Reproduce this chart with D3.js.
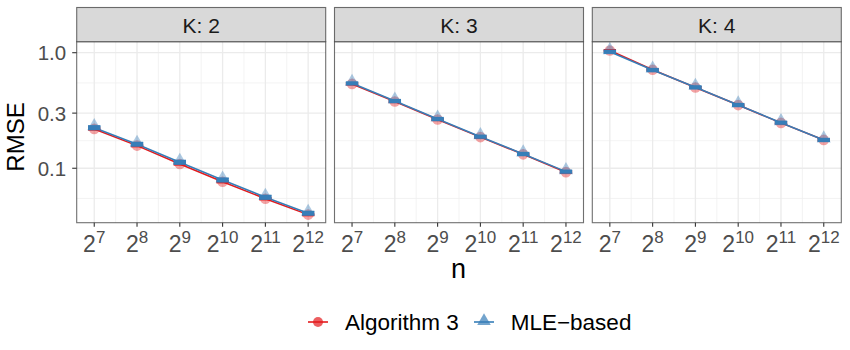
<!DOCTYPE html>
<html><head><meta charset="utf-8">
<script src="https://cdn.jsdelivr.net/npm/d3@7"></script>
<style>body{margin:0;background:#fff}svg{display:block}text{font-family:"Liberation Sans",Arial,sans-serif}</style>
</head><body><div id="chart"></div>
<script>
// ---- data ----
const panels = ["K: 2", "K: 3", "K: 4"];
const nExp = [7, 8, 9, 10, 11, 12];           // n = 2^exp
const seriesNames = ["Algorithm 3", "MLE\u2212based"];
const alg3 = [
  [0.219, 0.157, 0.109, 0.0765, 0.0545, 0.0397],
  [0.537, 0.378, 0.264, 0.186, 0.132, 0.0925],
  [1.045, 0.712, 0.500, 0.352, 0.247, 0.176]
];
const mle = [
  [0.2245, 0.1614, 0.1127, 0.0792, 0.0561, 0.0408],
  [0.543, 0.382, 0.267, 0.1876, 0.133, 0.0935],
  [1.02, 0.708, 0.502, 0.353, 0.248, 0.176]
];
const alg3Err = [
  [0.004, 0.003, 0.002, 0.0014, 0.001, 0.0007],
  [0.008, 0.006, 0.004, 0.003, 0.002, 0.0015],
  [0.015, 0.010, 0.007, 0.005, 0.004, 0.003]
];
const mleErr = [
  [0.008, 0.0055, 0.004, 0.0028, 0.002, 0.0014],
  [0.014, 0.010, 0.007, 0.005, 0.0035, 0.0025],
  [0.028, 0.019, 0.013, 0.009, 0.0065, 0.0046]
];
const yTicks = [0.1, 0.3, 1.0];
const yTickLabels = ["0.1", "0.3", "1.0"];
const yMinor = [0.0548, 0.1732, 0.5477];
const colors = ["#E41A1C", "#377EB8"];

// ---- layout ----
const W = 850, H = 350;
const panelLefts = [76.7, 334.5, 592.3];
const panelW = 249;
const stripTop = 7.5, stripBot = 41.7, panelBot = 222.7;

const svg = d3.select("#chart").append("svg").attr("width", W).attr("height", H);

const x = d3.scaleLog().base(2).domain([Math.pow(2, 6.59), Math.pow(2, 12.41)]).range([0, panelW]);
const y = d3.scaleLog().domain([0.0338, 1.245]).range([panelBot, stripBot]);
const capHalf = 6.2;

const seriesVals = [alg3, mle];
const seriesErr = [alg3Err, mleErr];

panels.forEach((label, p) => {
  const g = svg.append("g").attr("transform", `translate(${panelLefts[p]},0)`);
  g.append("rect").attr("x", 0).attr("y", stripBot).attr("width", panelW).attr("height", panelBot - stripBot).attr("fill", "#fff");
  const minorX = nExp.slice(0, -1).map(e => Math.pow(2, e + 0.5));
  g.selectAll(".mx").data(minorX).enter().append("line")
    .attr("x1", d => x(d)).attr("x2", d => x(d)).attr("y1", stripBot).attr("y2", panelBot)
    .attr("stroke", "#f0f0f0").attr("stroke-width", 0.8);
  g.selectAll(".my").data(yMinor).enter().append("line")
    .attr("x1", 0).attr("x2", panelW).attr("y1", d => y(d)).attr("y2", d => y(d))
    .attr("stroke", "#f0f0f0").attr("stroke-width", 0.8);
  g.selectAll(".gx").data(nExp).enter().append("line")
    .attr("x1", d => x(Math.pow(2, d))).attr("x2", d => x(Math.pow(2, d))).attr("y1", stripBot).attr("y2", panelBot)
    .attr("stroke", "#ebebeb").attr("stroke-width", 1.3);
  g.selectAll(".gy").data(yTicks).enter().append("line")
    .attr("x1", 0).attr("x2", panelW).attr("y1", d => y(d)).attr("y2", d => y(d))
    .attr("stroke", "#ebebeb").attr("stroke-width", 1.3);

  // points
  nExp.forEach((e, i) => {
    g.append("circle").attr("cx", x(Math.pow(2, e))).attr("cy", y(alg3[p][i])).attr("r", 5.3)
      .attr("fill", colors[0]).attr("fill-opacity", 0.4);
  });
  const tri = d3.symbol().type(d3.symbolTriangle).size(85);
  nExp.forEach((e, i) => {
    g.append("path").attr("d", tri).attr("transform", `translate(${x(Math.pow(2, e))},${y(mle[p][i]) - 1.5})`)
      .attr("fill", colors[1]).attr("fill-opacity", 0.4);
  });
  // lines
  seriesVals.forEach((vals, s) => {
    const line = d3.line().x((d, i) => x(Math.pow(2, nExp[i]))).y(d => y(d));
    g.append("path").datum(vals[p]).attr("d", line).attr("fill", "none")
      .attr("stroke", colors[s]).attr("stroke-width", 1.6);
  });
  // error bars
  seriesVals.forEach((vals, s) => {
    nExp.forEach((e, i) => {
      const cx = x(Math.pow(2, e));
      const v = vals[p][i], er = seriesErr[s][p][i];
      const y1 = y(v + er), y2 = y(v - er);
      const eg = g.append("g").attr("stroke", colors[s]).attr("stroke-width", 1.6).attr("fill", "none");
      eg.append("line").attr("x1", cx - capHalf).attr("x2", cx + capHalf).attr("y1", y1).attr("y2", y1);
      eg.append("line").attr("x1", cx - capHalf).attr("x2", cx + capHalf).attr("y1", y2).attr("y2", y2);
      eg.append("line").attr("x1", cx).attr("x2", cx).attr("y1", y1).attr("y2", y2);
      if (s === 1) {
        eg.append("rect").attr("x", cx - capHalf).attr("y", y1).attr("width", 2 * capHalf).attr("height", Math.max(0, y2 - y1))
          .attr("fill", colors[s]).attr("stroke", "none");
      }
    });
  });

  // panel border
  g.append("rect").attr("x", 0).attr("y", stripBot).attr("width", panelW).attr("height", panelBot - stripBot)
    .attr("fill", "none").attr("stroke", "#333333").attr("stroke-width", 1.1).attr("stroke-opacity", 0.7);
  // strip
  g.append("rect").attr("x", 0).attr("y", stripTop).attr("width", panelW).attr("height", stripBot - stripTop)
    .attr("fill", "#d9d9d9").attr("stroke", "#333333").attr("stroke-width", 1.1).attr("stroke-opacity", 0.7);
  g.append("text").attr("x", panelW / 2).attr("y", 32.5).attr("text-anchor", "middle")
    .attr("font-size", 21).attr("fill", "#1a1a1a").text(label);

  // x axis ticks
  nExp.forEach(e => {
    const cx = x(Math.pow(2, e));
    g.append("line").attr("x1", cx).attr("x2", cx).attr("y1", panelBot).attr("y2", panelBot + 4)
      .attr("stroke", "#333333").attr("stroke-width", 1.1);
    const t = g.append("text").attr("x", cx).attr("y", 251.7).attr("text-anchor", "middle").attr("fill", "#4d4d4d");
    t.append("tspan").attr("font-size", 23).text("2");
    t.append("tspan").attr("font-size", 17).attr("dy", -8.5).text(e);
  });
  if (p === 0) {
    yTicks.forEach((v, i) => {
      g.append("line").attr("x1", -4.5).attr("x2", 0).attr("y1", y(v)).attr("y2", y(v))
        .attr("stroke", "#333333").attr("stroke-width", 1.1);
      g.append("text").attr("x", -10.5).attr("y", y(v)).attr("dy", "0.36em").attr("text-anchor", "end")
        .attr("font-size", 20.5).attr("fill", "#4d4d4d").text(yTickLabels[i]);
    });
  }
});

// axis titles
svg.append("text").attr("x", 458.5).attr("y", 278.3).attr("text-anchor", "middle").attr("font-size", 27).attr("fill", "#000").text("n");
svg.append("text").attr("transform", "translate(24,137) rotate(-90)").attr("text-anchor", "middle")
  .attr("font-size", 24).attr("fill", "#000").text("RMSE");

// legend
const keyX = [308, 474], textX = [345, 510.7], ly = 322;
seriesNames.forEach((name, s) => {
  svg.append("line").attr("x1", keyX[s]).attr("x2", keyX[s] + 20).attr("y1", ly).attr("y2", ly)
    .attr("stroke", colors[s]).attr("stroke-width", 1.6);
  if (s === 0) {
    svg.append("circle").attr("cx", keyX[s] + 10).attr("cy", ly).attr("r", 5).attr("fill", colors[s]).attr("fill-opacity", 0.7);
  } else {
    svg.append("path").attr("d", d3.symbol().type(d3.symbolTriangle).size(80)).attr("transform", `translate(${keyX[s] + 10},${ly - 1})`)
      .attr("fill", colors[s]).attr("fill-opacity", 0.7);
  }
  svg.append("text").attr("x", textX[s]).attr("y", ly).attr("dy", "0.36em").attr("font-size", 22.5).attr("fill", "#000").text(name);
});
</script></body></html>
